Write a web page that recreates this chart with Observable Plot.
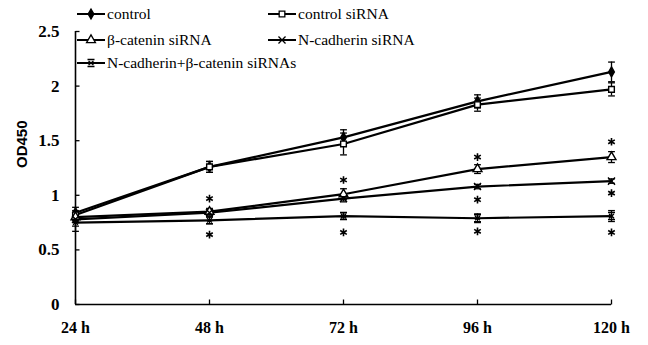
<!DOCTYPE html>
<html>
<head>
<meta charset="utf-8">
<script src="https://cdn.jsdelivr.net/npm/d3@7"></script>
<script src="https://cdn.jsdelivr.net/npm/@observablehq/plot@0.6"></script>
<style>
  html, body { margin: 0; padding: 0; background: #fff; }
  #wrap { position: relative; width: 648px; height: 345px; }
  #legend { position: absolute; left: 0; top: 0; font-family: "Liberation Serif", Tinos, "Times New Roman", "DejaVu Serif", serif; font-size: 15.5px; color: #000; }
  .item { position: absolute; display: flex; align-items: center; white-space: nowrap; }
  .item svg { margin-right: 2px; }
</style>
</head>
<body>
<div id="wrap"><div id="legend"></div></div>
<script>
// ---- data ----
const hours = [24, 48, 72, 96, 120];
const tickLabels = ["24 h", "48 h", "72 h", "96 h", "120 h"];
const yTicks = [0, 0.5, 1, 1.5, 2, 2.5];
const seriesNames = ["control", "control siRNA", "β-catenin siRNA", "N-cadherin siRNA", "N-cadherin+β-catenin siRNAs"];
const controlVals     = [0.84, 1.26, 1.53, 1.86, 2.13];
const controlErr      = [0.05, 0.05, 0.07, 0.06, 0.09];
const ctrlSiVals      = [0.82, 1.26, 1.47, 1.83, 1.97];
const ctrlSiErr       = [0.04, 0.05, 0.10, 0.06, 0.06];
const bcatVals        = [0.80, 0.85, 1.01, 1.24, 1.35];
const bcatErr         = [0.03, 0.03, 0.05, 0.04, 0.05];
const ncadVals        = [0.78, 0.84, 0.97, 1.08, 1.13];
const ncadErr         = [0.03, 0.03, 0.03, 0.02, 0.02];
const bothVals        = [0.75, 0.77, 0.81, 0.79, 0.81];
const bothErr         = [0.08, 0.03, 0.03, 0.04, 0.05];
// significance asterisks
const starHours = [48, 48, 72, 72, 96, 96, 96, 120, 120, 120];
const starVals  = [0.97, 0.64, 1.14, 0.66, 1.35, 0.96, 0.67, 1.49, 1.02, 0.66];

// ---- build table ----
const allVals = [controlVals, ctrlSiVals, bcatVals, ncadVals, bothVals];
const allErr = [controlErr, ctrlSiErr, bcatErr, ncadErr, bothErr];
const rows = [];
seriesNames.forEach((s, i) => hours.forEach((h, j) => rows.push({series: s, hour: h, v: allVals[i][j], e: allErr[i][j]})));
const stars = starHours.map((h, i) => ({hour: h, v: starVals[i]}));
const xt = hours.map((h, i) => ({hour: h, label: tickLabels[i]}));

const SERIF = "'Liberation Serif', Tinos, 'Times New Roman', 'DejaVu Serif', serif";

// ---- symbols ----
const hline = {draw(ctx, size) { const r = Math.sqrt(size / Math.PI); ctx.moveTo(-r, 0); ctx.lineTo(r, 0); }};
const vline = {draw(ctx, size) { const r = Math.sqrt(size / Math.PI); ctx.moveTo(0, -r); ctx.lineTo(0, r); }};
const barredX = {draw(ctx, size) {
  const r = Math.sqrt(size / Math.PI);
  ctx.moveTo(-r, -r); ctx.lineTo(r, -r);
  ctx.moveTo(-r, r); ctx.lineTo(r, r);
  ctx.moveTo(-r * 0.7, -r * 0.6); ctx.lineTo(r * 0.7, r * 0.6);
  ctx.moveTo(r * 0.7, -r * 0.6); ctx.lineTo(-r * 0.7, r * 0.6);
}};
const symbolMap = {
  "control": {symbol: "diamond", fill: "black", r: 3},
  "control siRNA": {symbol: "square", fill: "white", r: 3.2},
  "β-catenin siRNA": {symbol: "triangle", fill: "white", r: 3.3},
  "N-cadherin siRNA": {symbol: "times", fill: "none", r: 3.3},
  "N-cadherin+β-catenin siRNAs": {symbol: barredX, fill: "none", r: 3.5}
};

const marks = [
  // axis lines
  Plot.ruleX([24], {y1: 0, y2: 2.5, strokeWidth: 1.6}),
  Plot.ruleY([0], {x1: 24, x2: 120, strokeWidth: 1.6}),
  Plot.dot(yTicks, {x: () => 24, y: d => d, symbol: hline, r: 2, dx: 2, stroke: "black", strokeWidth: 1.3}),
  Plot.dot(hours, {x: d => d, y: () => 0, symbol: vline, r: 2.5, dy: -2.5, stroke: "black", strokeWidth: 1.3}),
  Plot.text(yTicks, {x: () => 24, y: d => d, text: d => String(d), dx: -16, textAnchor: "end",
    fontFamily: SERIF, fontWeight: "bold", fontSize: 17}),
  Plot.text(xt, {x: "hour", y: () => 0, text: "label", dy: 23,
    fontFamily: SERIF, fontWeight: "bold", fontSize: 16}),
  Plot.text(["OD450"], {frameAnchor: "left", dx: -53, rotate: -90, fontFamily: "'Liberation Sans', Arial, sans-serif", fontWeight: "bold", fontSize: 15}),
  // error bars
  Plot.ruleX(rows, {x: "hour", y1: d => d.v - d.e, y2: d => d.v + d.e, strokeWidth: 1.3}),
  Plot.dot(rows, {x: "hour", y: d => d.v - d.e, symbol: hline, r: 3.4, stroke: "black", strokeWidth: 1.3}),
  Plot.dot(rows, {x: "hour", y: d => d.v + d.e, symbol: hline, r: 3.4, stroke: "black", strokeWidth: 1.3}),
  // lines
  Plot.line(rows, {x: "hour", y: "v", z: "series", stroke: "black", strokeWidth: 2.2})
];
for (const s of seriesNames) {
  const m = symbolMap[s];
  marks.push(Plot.dot(rows.filter(d => d.series === s), {x: "hour", y: "v", symbol: m.symbol, r: m.r, fill: m.fill, stroke: "black", strokeWidth: 1.4}));
}
marks.push(Plot.dot(stars, {x: "hour", y: "v", symbol: "asterisk", r: 3.6, stroke: "black", strokeWidth: 1.6}));

const chart = Plot.plot({
  width: 648, height: 345,
  marginLeft: 75, marginRight: 37, marginTop: 31, marginBottom: 41,
  x: {domain: [24, 120], axis: null},
  y: {domain: [0, 2.5], axis: null},
  style: {background: "white", color: "black", overflow: "visible", fontFamily: SERIF},
  marks
});
document.getElementById("wrap").appendChild(chart);

// ---- legend ----
const legendPos = [[77, 14], [268, 14], [77, 40], [268, 40], [77, 63]];
const lg = document.getElementById("legend");
seriesNames.forEach((s, i) => {
  const m = symbolMap[s];
  const div = document.createElement("div");
  div.className = "item";
  div.style.left = legendPos[i][0] + "px";
  div.style.top = (legendPos[i][1] - 9) + "px";
  const svg = d3.create("svg").attr("width", 28).attr("height", 18);
  svg.append("line").attr("x1", 0).attr("x2", 28).attr("y1", 9).attr("y2", 9).attr("stroke", "black").attr("stroke-width", 2);
  const sym = typeof m.symbol === "string"
    ? {diamond: d3.symbolDiamond, square: d3.symbolSquare, triangle: d3.symbolTriangle, times: d3.symbolTimes}[m.symbol]
    : m.symbol;
  svg.append("path").attr("transform", "translate(14,9)")
    .attr("d", d3.symbol(sym, Math.PI * m.r * m.r)())
    .attr("fill", m.fill).attr("stroke", "black").attr("stroke-width", 1.3);
  div.appendChild(svg.node());
  const t = document.createElement("span");
  t.textContent = s;
  div.appendChild(t);
  lg.appendChild(div);
});
</script>
</body>
</html>
